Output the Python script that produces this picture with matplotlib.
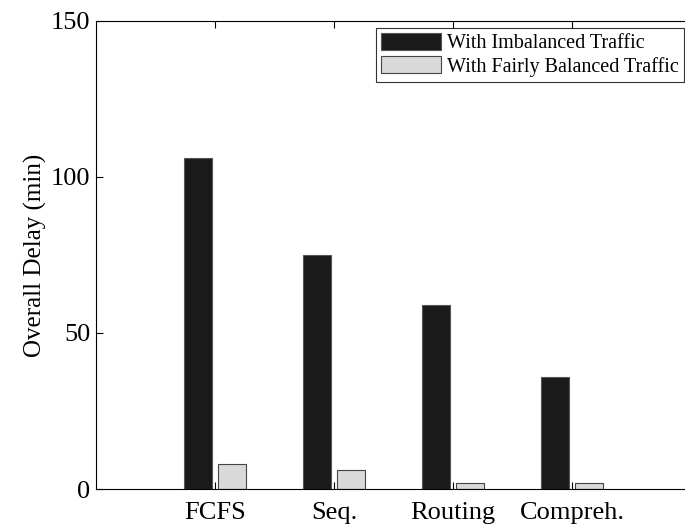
import numpy as np
import matplotlib.pyplot as plt

plt.rcParams['font.family'] = ['Liberation Serif', 'DejaVu Serif']

categories = ['FCFS', 'Seq.', 'Routing', 'Compreh.']
imbalanced = [106, 75, 59, 36]
balanced = [8, 6, 2, 2]

fig = plt.figure(figsize=(6.85, 5.29), dpi=100)
ax = fig.add_axes([0.140, 0.0756, 0.869, 0.885])

x = np.arange(1, len(categories) + 1)
w = 0.235
ax.bar(x - 0.145, imbalanced, w, color='#1a1a1a', edgecolor='#555555',
       linewidth=0.8, label='With Imbalanced Traffic')
ax.bar(x + 0.145, balanced, w, color='#d9d9d9', edgecolor='#444444',
       linewidth=0.8, label='With Fairly Balanced Traffic')

ax.set_xlim(0, 5)
ax.set_ylim(0, 150)
ax.set_xticks(x)
ax.set_xticklabels(categories)
ax.set_yticks([0, 50, 100, 150])
ax.tick_params(axis='both', direction='in', length=5, width=0.8,
               top=True, right=False, labelsize=19)
ax.tick_params(axis='x', pad=9)
ax.tick_params(axis='y', pad=4)
ax.set_ylabel('Overall Delay (min)', fontsize=18, labelpad=3)
for s in ax.spines.values():
    s.set_linewidth(0.8)

leg = ax.legend(loc='upper right', bbox_to_anchor=(0.988, 0.985), fontsize=14.5,
                frameon=True, fancybox=False, edgecolor='black',
                handlelength=3.0, handleheight=0.9, handletextpad=0.3,
                borderpad=0.25, labelspacing=0.15, borderaxespad=0)
leg.get_frame().set_linewidth(0.8)

fig.savefig('out.png', dpi=100)
